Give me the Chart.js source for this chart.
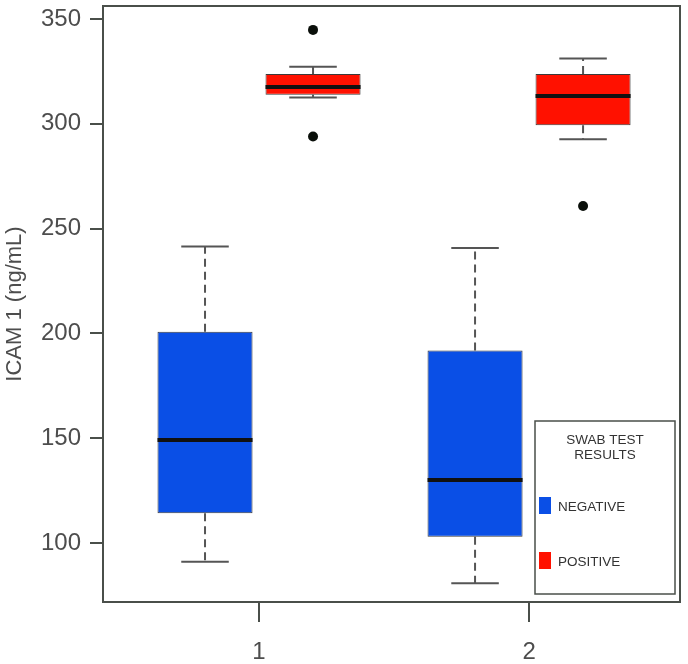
<!DOCTYPE html>
<html>
<head>
<meta charset="utf-8">
<script src="https://cdn.jsdelivr.net/npm/chart.js@4/dist/chart.umd.min.js"></script>
<style>
  html, body { margin: 0; padding: 0; background: #fff; }
  #wrap { width: 688px; height: 664px; }
</style>
</head>
<body>
<div id="wrap"><canvas id="boxChart" width="688" height="664"></canvas></div>
<script>
// groups on the x axis and y ticks
const groups = [1, 2];
const yTicks = [100, 150, 200, 250, 300, 350];
const seriesNames = ['NEGATIVE', 'POSITIVE'];
const legendTitle = ['SWAB TEST', 'RESULTS'];

// negative swab test
const negLow = [91.1, 80.8];
const negQ1 = [114.2, 103.0];
const negMedian = [149.1, 130.0];
const negQ3 = [200.8, 191.8];
const negHigh = [241.4, 240.7];
const negOutliers = [[], []];

// positive swab test
const posLow = [312.6, 292.6];
const posQ1 = [313.8, 299.3];
const posMedian = [317.6, 313.3];
const posQ3 = [323.8, 323.8];
const posHigh = [327.2, 331.2];
const posOutliers = [[344.8, 293.9], [260.8]];

const stats = [
    { low: negLow, q1: negQ1, med: negMedian, q3: negQ3, high: negHigh, out: negOutliers },
    { low: posLow, q1: posQ1, med: posMedian, q3: posQ3, high: posHigh, out: posOutliers }
];

const boxColors = ['#0a4fe6', '#ff1100'];
const lineColor = '#4a4f4a';
const textColor = '#4d4d4d';

// whiskers, medians, outliers, plot box and the legend
const boxExtras = {
    id: 'boxExtras',
    beforeDatasetsDraw(chart) {
        const ctx = chart.ctx;
        const y = chart.scales.y;
        ctx.save();
        stats.forEach((s, di) => {
            const meta = chart.getDatasetMeta(di);
            meta.data.forEach((bar, i) => {
                const cx = bar.x;
                const cap = bar.width / 2;
                ctx.strokeStyle = '#555';
                ctx.lineWidth = 2;
                ctx.setLineDash([8, 5]);
                ctx.beginPath();
                ctx.moveTo(cx, y.getPixelForValue(s.q3[i]));
                ctx.lineTo(cx, y.getPixelForValue(s.high[i]));
                ctx.moveTo(cx, y.getPixelForValue(s.q1[i]));
                ctx.lineTo(cx, y.getPixelForValue(s.low[i]));
                ctx.stroke();
                ctx.setLineDash([]);
                ctx.beginPath();
                ctx.moveTo(cx - cap / 2, y.getPixelForValue(s.high[i]));
                ctx.lineTo(cx + cap / 2, y.getPixelForValue(s.high[i]));
                ctx.moveTo(cx - cap / 2, y.getPixelForValue(s.low[i]));
                ctx.lineTo(cx + cap / 2, y.getPixelForValue(s.low[i]));
                ctx.stroke();
            });
        });
        ctx.restore();
    },
    afterDatasetsDraw(chart) {
        const ctx = chart.ctx;
        const y = chart.scales.y;
        const area = chart.chartArea;
        ctx.save();
        stats.forEach((s, di) => {
            const meta = chart.getDatasetMeta(di);
            meta.data.forEach((bar, i) => {
                const half = bar.width / 2;
                const my = y.getPixelForValue(s.med[i]);
                ctx.strokeStyle = '#111';
                ctx.lineWidth = 4;
                ctx.beginPath();
                ctx.moveTo(bar.x - half, my);
                ctx.lineTo(bar.x + half, my);
                ctx.stroke();
                ctx.fillStyle = '#0a0f0a';
                s.out[i].forEach(v => {
                    ctx.beginPath();
                    ctx.arc(bar.x, y.getPixelForValue(v), 5, 0, Math.PI * 2);
                    ctx.fill();
                });
            });
        });

        // plot box
        ctx.strokeStyle = lineColor;
        ctx.lineWidth = 2;
        ctx.strokeRect(area.left, area.top, area.right - area.left, area.bottom - area.top);

        // legend in the bottom right corner
        const lx = area.right - 145, ly = area.bottom - 181, lw = 140, lh = 173;
        ctx.fillStyle = '#fff';
        ctx.fillRect(lx, ly, lw, lh);
        ctx.lineWidth = 1.5;
        ctx.strokeRect(lx, ly, lw, lh);
        ctx.fillStyle = '#333';
        ctx.font = '13.5px "Liberation Sans", Arial, sans-serif';
        ctx.textAlign = 'center';
        ctx.textBaseline = 'middle';
        legendTitle.forEach((t, k) => ctx.fillText(t, lx + lw / 2, ly + 19 + k * 15));
        ctx.textAlign = 'left';
        chart.data.datasets.forEach((ds, k) => {
            const ry = ly + 76 + k * 55;
            ctx.fillStyle = ds.backgroundColor;
            ctx.fillRect(lx + 4, ry, 12, 17);
            ctx.fillStyle = '#333';
            ctx.fillText(ds.label, lx + 23, ry + 10);
        });
        ctx.restore();
    }
};

const ctx = document.getElementById('boxChart').getContext('2d');
const boxChart = new Chart(ctx, {
    type: 'bar',
    data: {
        datasets: stats.map((s, di) => ({
            label: seriesNames[di],
            data: groups.map((g, i) => ({ x: g, y: [s.q1[i], s.q3[i]] })),
            backgroundColor: boxColors[di],
            borderColor: 'rgba(25,25,25,0.85)',
            borderWidth: 1,
            borderSkipped: false,
            categoryPercentage: 0.8,
            barPercentage: 0.88
        }))
    },
    options: {
        responsive: false,
        animation: false,
        events: [],
        layout: { padding: { top: 6, right: 8, left: 0, bottom: 0 } },
        plugins: {
            legend: { display: false },
            tooltip: { enabled: false }
        },
        scales: {
            x: {
                type: 'linear',
                offset: false,
                min: 0.4222,
                max: 2.559,
                afterBuildTicks: scale => { scale.ticks = groups.map(v => ({ value: v })); },
                afterFit: scale => {
                    scale.height = 62;
                    scale.paddingLeft = 0;
                    scale.paddingRight = 0;
                },
                grid: { offset: false, drawOnChartArea: false, tickLength: 20, color: lineColor, lineWidth: 2 },
                border: { color: lineColor, width: 2 },
                ticks: {
                    padding: 16,
                    color: textColor,
                    font: { family: '"Liberation Sans", Arial, sans-serif', size: 24 },
                    callback: v => String(v)
                }
            },
            y: {
                min: 71.85,
                max: 356.2,
                afterBuildTicks: scale => { scale.ticks = yTicks.map(v => ({ value: v })); },
                afterFit: scale => {
                    scale.width = 103;
                    scale.paddingTop = 0;
                    scale.paddingBottom = 0;
                },
                grid: { drawOnChartArea: false, tickLength: 13, color: lineColor, lineWidth: 2 },
                border: { color: lineColor, width: 2 },
                ticks: {
                    padding: 9,
                    color: textColor,
                    font: { family: '"Liberation Sans", Arial, sans-serif', size: 24 }
                },
                title: {
                    display: true,
                    text: 'ICAM 1 (ng/mL)',
                    color: textColor,
                    padding: { top: 2, bottom: 0 },
                    font: { family: '"Liberation Sans", Arial, sans-serif', size: 22 }
                }
            }
        }
    },
    plugins: [boxExtras]
});
</script>
</body>
</html>
